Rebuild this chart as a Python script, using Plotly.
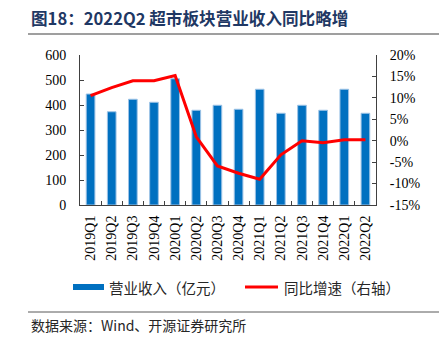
import plotly.graph_objects as go

quarters = ["2019Q1", "2019Q2", "2019Q3", "2019Q4", "2020Q1", "2020Q2", "2020Q3",
            "2020Q4", "2021Q1", "2021Q2", "2021Q3", "2021Q4", "2022Q1", "2022Q2"]
revenue = [444, 373, 423, 411, 505, 379, 399, 383, 463, 367, 399, 379, 463, 367]
yoy_growth = [10.5, 12.4, 14.0, 14.0, 15.2, 0.9, -5.9, -7.6, -9.0, -3.3, 0.0, -0.5, 0.2, 0.2]

left_ticks = [0, 100, 200, 300, 400, 500, 600]
right_ticks = [-15, -10, -5, 0, 5, 10, 15, 20]
right_labels = [f"{v}%" for v in right_ticks]

W, H = 439, 352
L, R, T, B = 80, 63, 55, 147
PW, PH = W - L - R, H - T - B

def px(x):
    return (x - L) / PW

def py(y):
    return (H - B - y) / PH

serif = "Liberation Serif, Times New Roman, serif"
cjk = "Noto Sans CJK SC"

fig = go.Figure()
fig.add_trace(go.Bar(
    x=quarters, y=revenue, name="营业收入（亿元）",
    marker=dict(color="#0070C0", line=dict(color="#9DC3E6", width=1)),
    yaxis="y", showlegend=False,
))
fig.add_trace(go.Scatter(
    x=quarters, y=yoy_growth, name="同比增速（右轴）", mode="lines",
    line=dict(color="#FF0000", width=3), yaxis="y2", showlegend=False,
))

axis_color = "#404040"
fig.update_layout(
    width=W, height=H, autosize=False,
    margin=dict(l=L, r=R, t=T, b=B, pad=0),
    paper_bgcolor="white", plot_bgcolor="white",
    bargap=0.59,
    xaxis=dict(
        type="category", showline=True, linecolor=axis_color, linewidth=1,
        ticks="inside", ticklen=4, tickcolor=axis_color, tickson="boundaries",
        tickangle=-90, tickfont=dict(family=serif, size=14, color="black"),
        showgrid=False, zeroline=False, ticklabelstandoff=4,
    ),
    yaxis=dict(
        range=[0, 600], tickvals=left_ticks, showline=True, linecolor=axis_color,
        linewidth=1, ticks="inside", ticklen=4, tickcolor=axis_color,
        tickfont=dict(family=serif, size=14, color="black"), showgrid=False,
        zeroline=False, ticklabelstandoff=10,
    ),
    yaxis2=dict(
        range=[-15, 20], tickvals=right_ticks, ticktext=right_labels,
        overlaying="y", side="right", showline=True, linecolor=axis_color,
        linewidth=1, ticks="inside", ticklen=4, tickcolor=axis_color,
        tickfont=dict(family=serif, size=14, color="black"), showgrid=False,
        zeroline=False, ticklabelstandoff=10,
    ),
)

shapes = [
    dict(type="line", xref="paper", yref="paper", x0=px(28), x1=px(439), y0=py(34), y1=py(34),
         line=dict(color="#7F7F7F", width=1.5)),
    dict(type="line", xref="paper", yref="paper", x0=px(28), x1=px(439), y0=py(312), y1=py(312),
         line=dict(color="#595959", width=1)),
    dict(type="rect", xref="paper", yref="paper", x0=px(73), x1=px(104), y0=py(290), y1=py(284),
         fillcolor="#0070C0", line=dict(width=0)),
    dict(type="line", xref="paper", yref="paper", x0=px(245), x1=px(278), y0=py(287), y1=py(287),
         line=dict(color="#FF0000", width=3)),
]
fig.update_layout(shapes=shapes)

annotations = [
    dict(text="<b>图18：2022Q2 超市板块营业收入同比略增</b>", x=px(29), y=py(18),
         font=dict(family=cjk, size=16.6, color="#1F3864")),
    dict(text="营业收入（亿元）", x=px(107), y=py(287),
         font=dict(family=cjk, size=14.5, color="#262626")),
    dict(text="同比增速（右轴）", x=px(282), y=py(287),
         font=dict(family=cjk, size=14.5, color="#262626")),
    dict(text="数据来源：Wind、开源证券研究所", x=px(29), y=py(325),
         font=dict(family=cjk, size=14, color="#262626")),
]
for a in annotations:
    a.update(xref="paper", yref="paper", xanchor="left", yanchor="middle", showarrow=False)
fig.update_layout(annotations=annotations)

fig.write_html("out.html")
